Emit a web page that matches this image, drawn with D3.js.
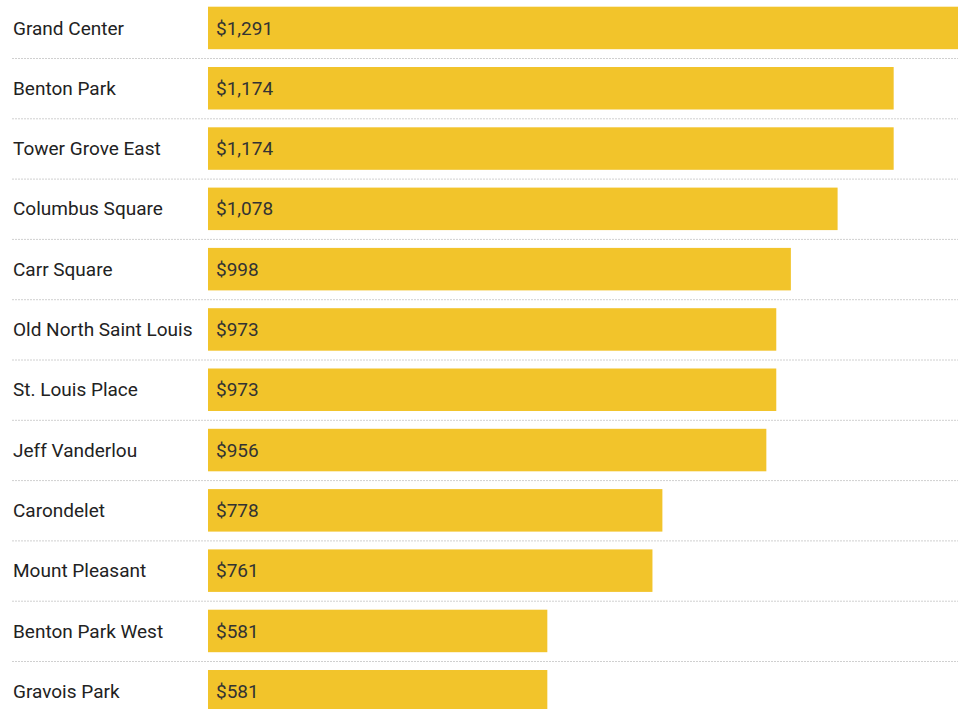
<!DOCTYPE html>
<html>
<head>
<meta charset="utf-8">
<script src="https://cdn.jsdelivr.net/npm/d3@7"></script>
<style>
  body { margin: 0; background: white; overflow: hidden; }
  svg { display: block; font-family: Roboto, sans-serif; }
</style>
</head>
<body>
<svg id="rentChart"></svg>
<script>
const neighborhoods = ["Grand Center", "Benton Park", "Tower Grove East", "Columbus Square", "Carr Square",
    "Old North Saint Louis", "St. Louis Place", "Jeff Vanderlou", "Carondelet", "Mount Pleasant",
    "Benton Park West", "Gravois Park"];
const rents = [1291, 1174, 1174, 1078, 998, 973, 973, 956, 778, 761, 581, 581];

const dimensions = {
    width: 958,
    height: 709,
    rowTop: -2.3,
    rowStep: 60.3,
    barInset: 9,
    barHeight: 42.5,
    barLeft: 208
};

const data = neighborhoods.map((name, i) => ({ name: name, rent: rents[i] }));

const svg = d3.select("#rentChart")
    .attr("width", dimensions.width)
    .attr("height", dimensions.height);

const yScale = d3.scaleBand()
    .domain(neighborhoods)
    .range([dimensions.rowTop, dimensions.rowTop + dimensions.rowStep * neighborhoods.length]);

const xScale = d3.scaleLinear()
    .domain([0, 1291])
    .range([dimensions.barLeft, 962]);

const rows = svg.selectAll(".row")
    .data(data)
    .enter().append("g")
    .attr("class", "row")
    .attr("transform", d => `translate(0,${yScale(d.name)})`);

// dotted separator under each row
rows.filter((d, i) => i < data.length - 1)
    .append("line")
    .attr("x1", 12)
    .attr("x2", dimensions.width)
    .attr("y1", yScale.bandwidth() + 0.5)
    .attr("y2", yScale.bandwidth() + 0.5)
    .attr("stroke", "#d0d0d0")
    .attr("stroke-width", 1)
    .attr("stroke-dasharray", "2,1");

rows.append("rect")
    .attr("x", xScale(0))
    .attr("y", dimensions.barInset)
    .attr("width", d => xScale(d.rent) - xScale(0))
    .attr("height", dimensions.barHeight)
    .attr("fill", "#f2c42b");

rows.append("text")
    .attr("x", 13)
    .attr("y", dimensions.barInset + dimensions.barHeight / 2)
    .attr("dy", "0.35em")
    .attr("font-size", "19px")
    .attr("fill", "#222")
    .text(d => d.name);

rows.append("text")
    .attr("x", xScale(0) + 8)
    .attr("y", dimensions.barInset + dimensions.barHeight / 2)
    .attr("dy", "0.35em")
    .attr("font-size", "19px")
    .attr("fill", "#333")
    .text(d => "$" + d3.format(",")(d.rent));
</script>
</body>
</html>
